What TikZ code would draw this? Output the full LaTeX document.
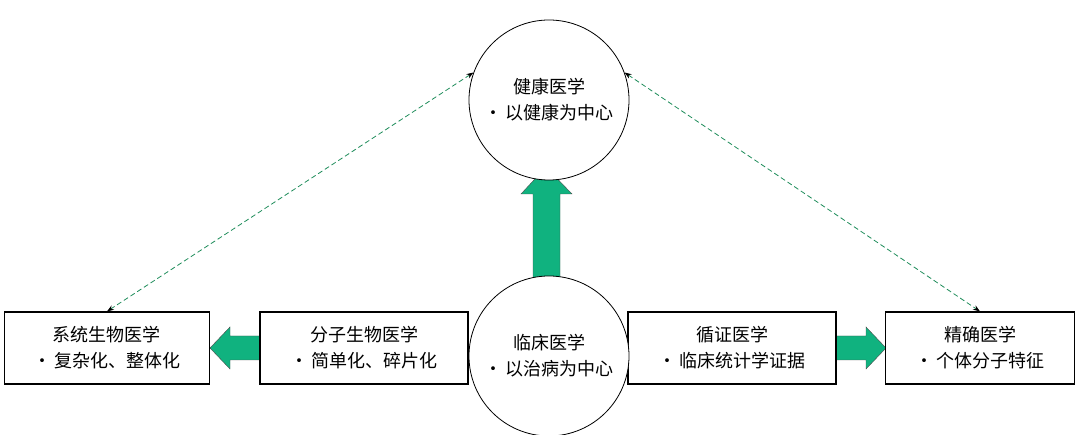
\documentclass[tikz,border=0pt]{standalone}
\usepackage{fontspec}
\newfontfamily\cjk{Noto Sans CJK SC}
\usetikzlibrary{positioning}
\usetikzlibrary{arrows.meta}
\definecolor{fatgreen}{HTML}{10B27F}
\definecolor{dashgreen}{HTML}{1E8C5A}
\tikzset{x=1pt, y=-1pt,
  every node/.style={align=center, font=\cjk\fontsize{18}{26}\selectfont},
  box/.style={draw, very thick, fill=white, minimum height=72pt, inner sep=2pt},
  disc/.style={draw, thick, circle, fill=white, minimum size=160pt, inner sep=0pt},
  fat/.style={draw=black!70, fill=fatgreen, thin},
  link/.style={dash pattern=on 5pt off 3pt, dashgreen, thick, {Stealth[black,length=7pt,width=5pt]}-{Stealth[black,length=7pt,width=5pt]}}}
\begin{document}
\begin{tikzpicture}
  \useasboundingbox (0,0) rectangle (1080,435);

  % fat arrows first, boxes and discs on top
  \draw [fat] (533,285) -- (533,194) -- (521,194) -- (546,167) -- (572,194)
    -- (560,194) -- (560,285) -- cycle;
  \draw [fat] (265,336) -- (230,336) -- (230,327) -- (210,348) -- (230,369)
    -- (230,360) -- (265,360) -- cycle;
  \draw [fat] (830,336) -- (866,336) -- (866,327) -- (886,348) -- (866,369)
    -- (866,360) -- (830,360) -- cycle;

  \node [box, minimum width=205pt] (sysbio) at (107,348) {系统生物医学\\•\,复杂化、整体化};
  \node [box, minimum width=208pt] (molbio) at (364,348) {分子生物医学\\•\,简单化、碎片化};
  \node [box, minimum width=208pt] (ebm) at (732,348) {循证医学\\•\,临床统计学证据};
  \node [box, minimum width=189pt] (precise) at (980,348) {精确医学\\•\,个体分子特征};

  \node [disc] (health) at (549,100) {健康医学\\•\,以健康为中心};
  \node [disc] (clinic) at (549,356) {临床医学\\•\,以治病为中心};

  \draw [link] (health.160) -- (sysbio.north);
  \draw [link] (health.20) -- (precise.north);
\end{tikzpicture}
\end{document}
